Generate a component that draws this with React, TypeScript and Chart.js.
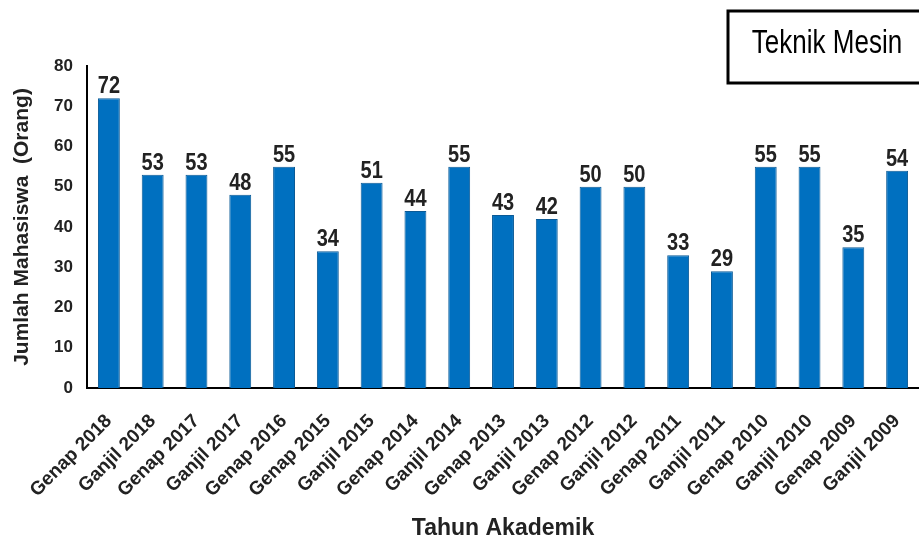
import React, { useEffect, useRef } from "react";
import { Chart, registerables } from "chart.js";

Chart.register(...registerables);

const categories = [
  "Genap 2018", "Ganjil 2018", "Genap 2017", "Ganjil 2017", "Genap 2016",
  "Genap 2015", "Ganjil 2015", "Genap 2014", "Ganjil 2014", "Genap 2013",
  "Ganjil 2013", "Genap 2012", "Ganjil 2012", "Genap 2011", "Ganjil 2011",
  "Genap 2010", "Ganjil 2010", "Genap 2009", "Ganjil 2009",
];
const values = [72, 53, 53, 48, 55, 34, 51, 44, 55, 43, 42, 50, 50, 33, 29, 55, 55, 35, 54];
const yTicks = [0, 10, 20, 30, 40, 50, 60, 70, 80];
const legendText = "Teknik Mesin";
const xTitle = "Tahun Akademik";
const yTitle = "Jumlah Mahasiswa  (Orang)";

const FONT = "'Liberation Sans', Arial, sans-serif";

const valueLabels = {
  id: "valueLabels",
  afterDatasetsDraw(chart: any) {
    const ctx = chart.ctx;
    const meta = chart.getDatasetMeta(0);
    ctx.font = `bold 20px ${FONT}`;
    ctx.fillStyle = "#222";
    ctx.textAlign = "center";
    ctx.textBaseline = "alphabetic";
    meta.data.forEach((bar: any, i: number) => {
      ctx.save();
      ctx.translate(bar.x, bar.y - 5);
      ctx.scale(1, 1.2);
      ctx.fillText(String(values[i]), 0, 0);
      ctx.restore();
    });
  },
};

const boxPlugin = {
  id: "boxPlugin",
  afterDraw(chart: any) {
    const ctx = chart.ctx;
    ctx.save();
    ctx.strokeStyle = "#000";
    ctx.lineWidth = 3;
    ctx.strokeRect(728, 11, 200, 72);
    ctx.translate(827, 44);
    ctx.scale(1, 1.25);
    ctx.font = `26px ${FONT}`;
    ctx.fillStyle = "#000";
    ctx.textAlign = "center";
    ctx.textBaseline = "middle";
    ctx.fillText(legendText, 0, 0);
    ctx.restore();
  },
};

export default function App() {
  const ref = useRef<HTMLCanvasElement>(null);
  useEffect(() => {
    document.body.style.margin = "0";
    const chart = new Chart(ref.current!, {
      type: "bar",
      data: {
        labels: categories,
        datasets: [
          {
            data: values,
            backgroundColor: "#0070C0",
            borderColor: "#0A5A96",
            borderWidth: 1,
            barPercentage: 0.5,
            categoryPercentage: 1,
          },
        ],
      },
      options: {
        animation: false,
        responsive: false,
        maintainAspectRatio: false,
        layout: { padding: { top: 66, right: 0, left: 0, bottom: 0 } },
        plugins: { legend: { display: false }, tooltip: { enabled: false } },
        scales: {
          x: {
            grid: { display: false, drawTicks: false },
            border: { color: "#000", width: 2 },
            ticks: {
              color: "#222",
              font: { family: FONT, size: 19, weight: "bold" },
              maxRotation: 45,
              minRotation: 45,
              autoSkip: false,
              padding: 22,
            },
            title: {
              display: true,
              text: xTitle,
              color: "#222",
              font: { family: FONT, size: 23, weight: "bold" },
              padding: { top: 0, bottom: 0 },
            },
            afterFit(scale: any) {
              scale.height = 154;
              scale.paddingLeft = 0;
              scale.paddingRight = 0;
            },
          },
          y: {
            min: 0,
            max: 80,
            afterBuildTicks(scale: any) {
              scale.ticks = yTicks.map((v) => ({ value: v }));
            },
            grid: { display: false, drawTicks: false },
            border: { color: "#000", width: 2 },
            ticks: {
              color: "#222",
              font: { family: FONT, size: 17, weight: "bold" },
              padding: 14,
            },
            title: {
              display: true,
              text: yTitle,
              color: "#222",
              font: { family: FONT, size: 21, weight: "bold" },
              padding: { top: 10, bottom: 0 },
            },
            afterFit(scale: any) {
              scale.width = 87;
              scale.paddingTop = 0;
              scale.paddingBottom = 0;
            },
          },
        },
      },
      plugins: [valueLabels, boxPlugin],
    });
    return () => chart.destroy();
  }, []);
  return (
    <div style={{ position: "absolute", left: 0, top: 0, width: 919, height: 542 }}>
      <canvas ref={ref} width={919} height={542} style={{ display: "block" }} />
    </div>
  );
}
